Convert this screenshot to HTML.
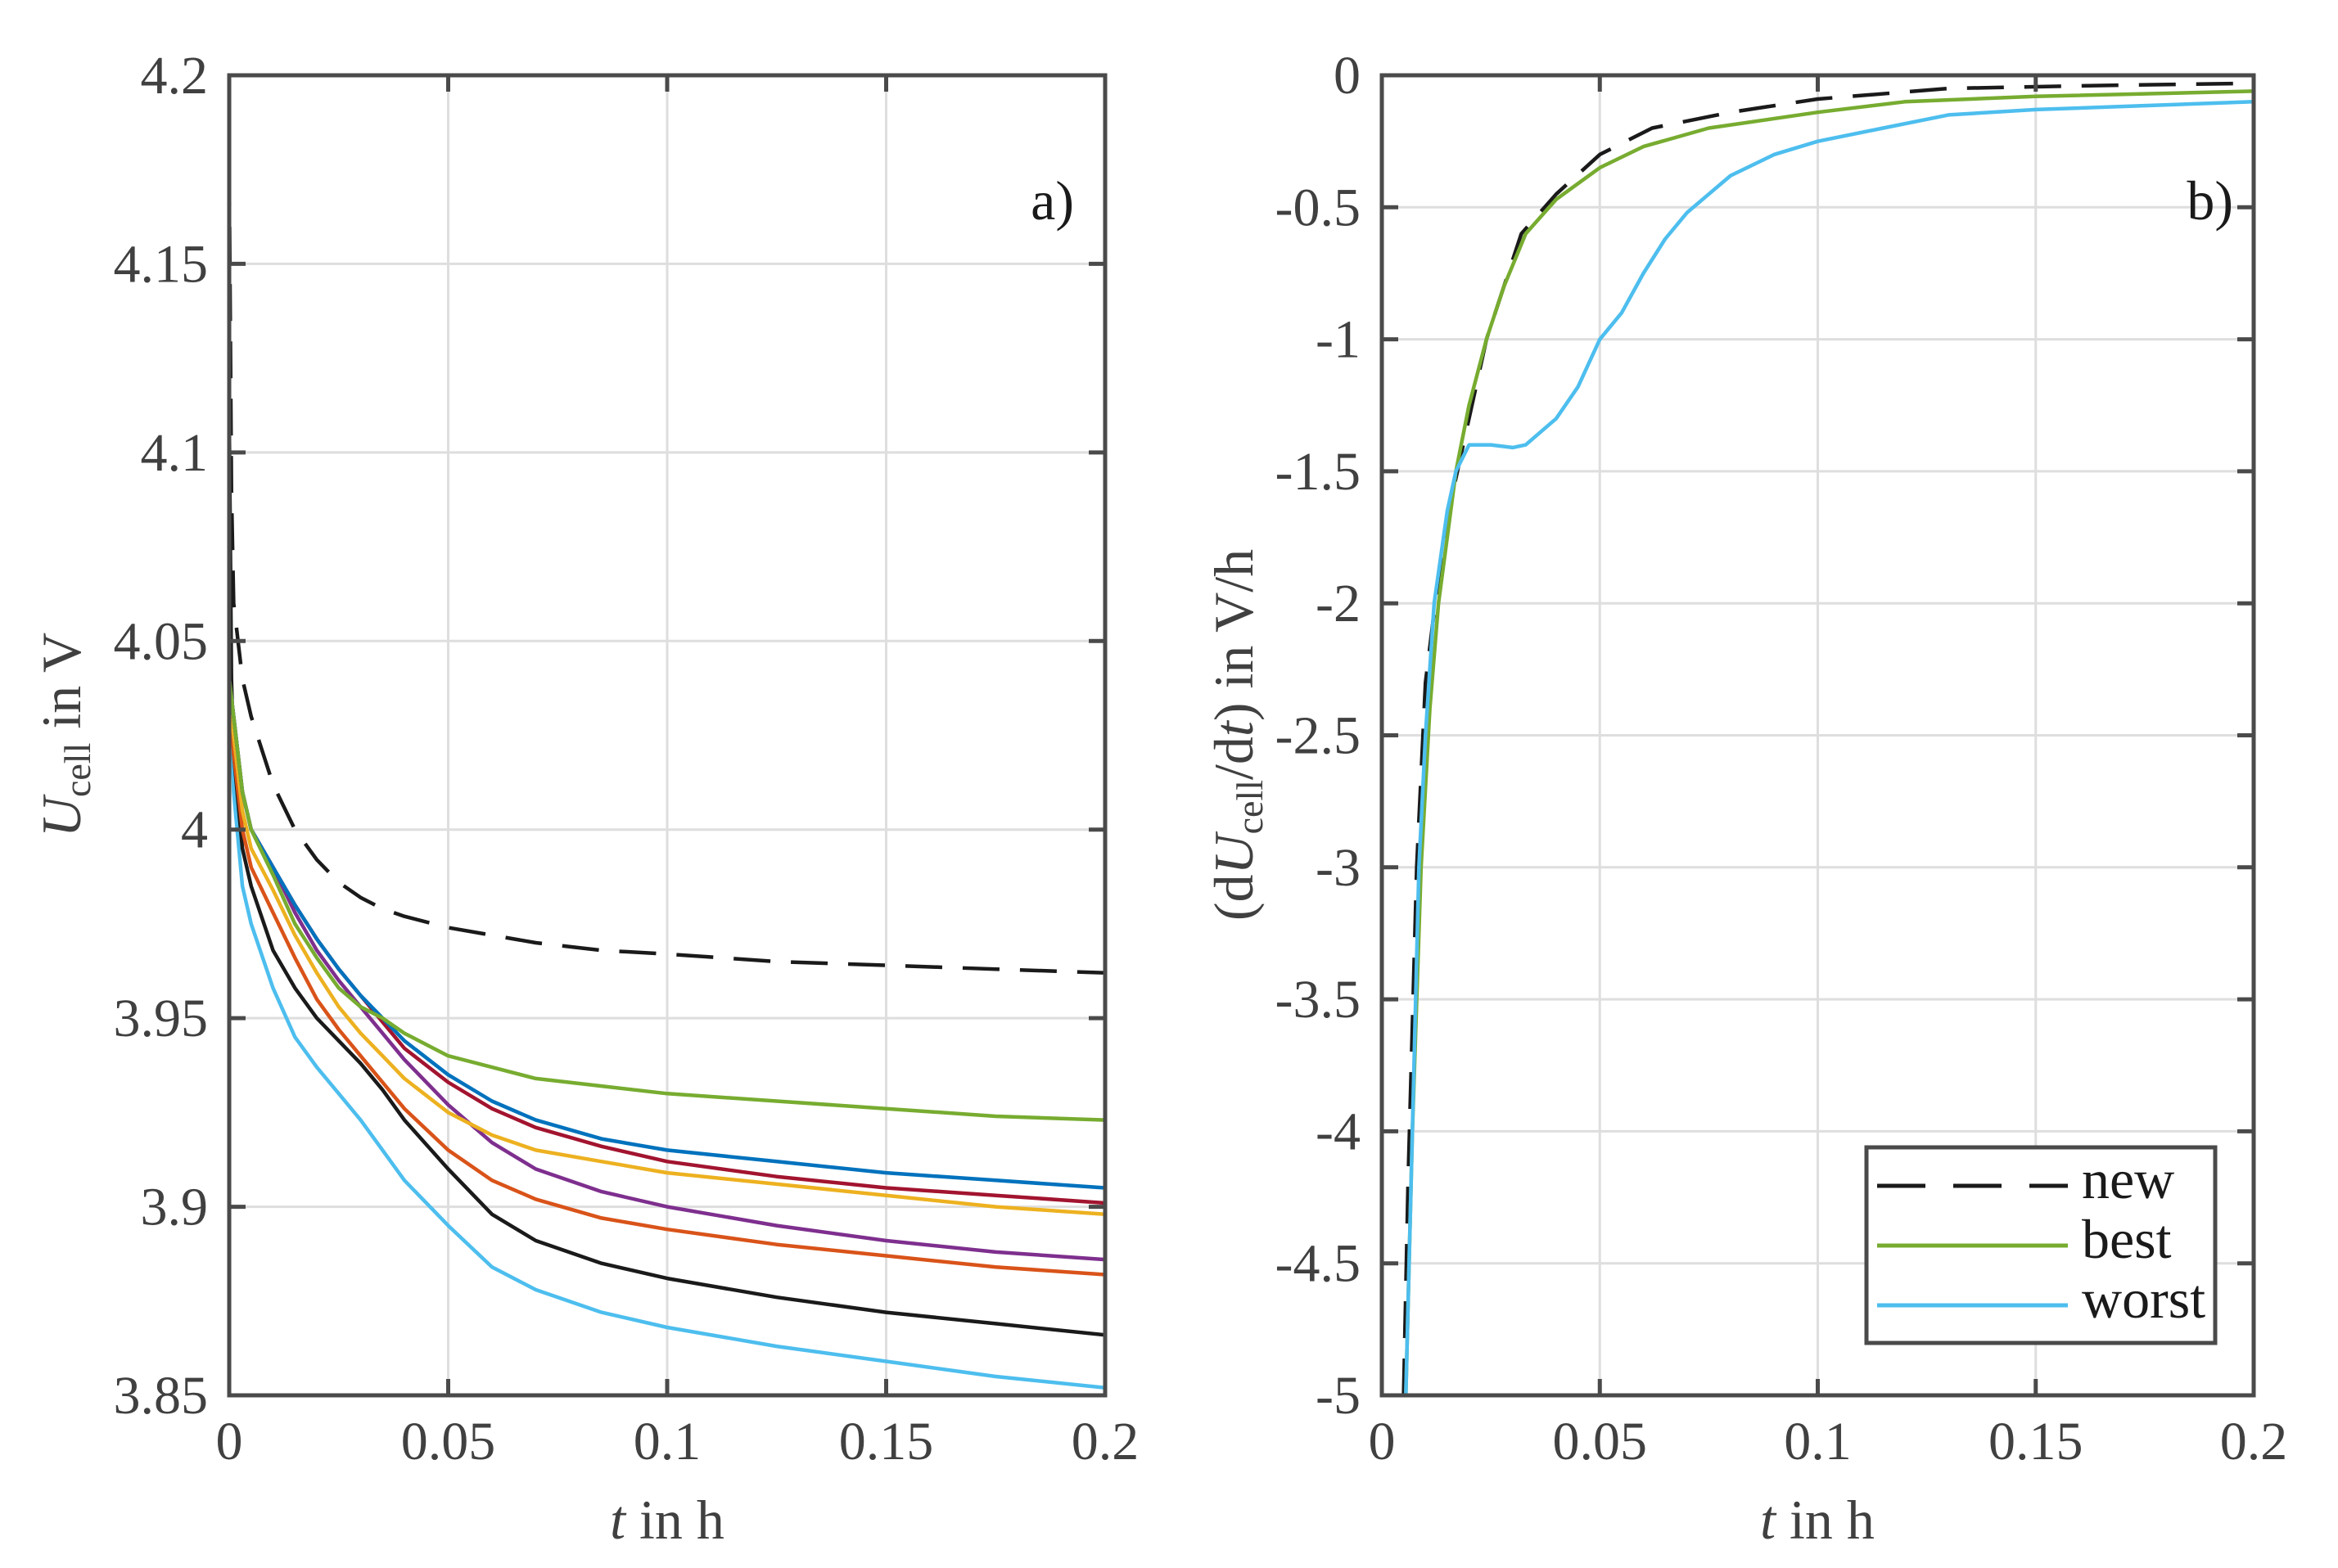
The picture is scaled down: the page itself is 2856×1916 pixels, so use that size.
<!DOCTYPE html>
<html><head><meta charset="utf-8"><style>
html,body{margin:0;padding:0;background:#fff;}
svg{display:block;}
text{font-family:"Liberation Serif",serif;fill:#404040;}
</style></head><body>
<svg id="fig" width="2856" height="1916" viewBox="0 0 2856 1916" xmlns="http://www.w3.org/2000/svg"></svg>
<script>
// ---- Panel a data ----
const tA = [0, 0.0005, 0.001, 0.003, 0.005, 0.01, 0.015, 0.02, 0.025, 0.03, 0.035, 0.04, 0.05, 0.06, 0.07, 0.085, 0.1, 0.125, 0.15, 0.175, 0.2];
const vNew    = [4.175, 4.09, 4.06, 4.04, 4.03, 4.012, 4.0, 3.992, 3.986, 3.982, 3.979, 3.977, 3.974, 3.972, 3.970, 3.968, 3.967, 3.965, 3.964, 3.963, 3.962];
const vGreen  = [4.04, 4.035, 4.03, 4.01, 4.0, 3.988, 3.975, 3.966, 3.958, 3.953, 3.950, 3.946, 3.940, 3.937, 3.934, 3.932, 3.930, 3.928, 3.926, 3.924, 3.923];
const vBlue   = [4.04, 4.035, 4.03, 4.01, 4.0, 3.99, 3.98, 3.971, 3.963, 3.956, 3.950, 3.944, 3.935, 3.928, 3.923, 3.918, 3.915, 3.912, 3.909, 3.907, 3.905];
const vRed    = [4.04, 4.035, 4.03, 4.01, 4.0, 3.99, 3.98, 3.971, 3.963, 3.956, 3.949, 3.942, 3.933, 3.926, 3.921, 3.916, 3.912, 3.908, 3.905, 3.903, 3.901];
const vYellow = [4.04, 4.03, 4.025, 4.005, 3.995, 3.984, 3.972, 3.962, 3.953, 3.946, 3.940, 3.934, 3.925, 3.919, 3.915, 3.912, 3.909, 3.906, 3.903, 3.900, 3.898];
const vPurple = [4.04, 4.035, 4.03, 4.01, 4.0, 3.99, 3.978, 3.968, 3.960, 3.953, 3.946, 3.939, 3.927, 3.917, 3.910, 3.904, 3.900, 3.895, 3.891, 3.888, 3.886];
const vOrange = [4.04, 4.03, 4.02, 4.0, 3.99, 3.978, 3.966, 3.955, 3.947, 3.940, 3.933, 3.926, 3.915, 3.907, 3.902, 3.897, 3.894, 3.890, 3.887, 3.884, 3.882];
const vBlack  = [4.11, 4.04, 4.02, 3.995, 3.985, 3.968, 3.958, 3.950, 3.944, 3.938, 3.931, 3.923, 3.910, 3.898, 3.891, 3.885, 3.881, 3.876, 3.872, 3.869, 3.866];
const vLight  = [4.11, 4.03, 4.01, 3.985, 3.975, 3.958, 3.945, 3.937, 3.930, 3.923, 3.915, 3.907, 3.895, 3.884, 3.878, 3.872, 3.868, 3.863, 3.859, 3.855, 3.852];
const xTicksA = [0, 0.05, 0.1, 0.15, 0.2];
const xTickLabels = ["0", "0.05", "0.1", "0.15", "0.2"];
const yTicksA = [3.85, 3.9, 3.95, 4, 4.05, 4.1, 4.15, 4.2];
const yTickLabelsA = ["3.85", "3.9", "3.95", "4", "4.05", "4.1", "4.15", "4.2"];
// ---- Panel b data ----
const tNew  = [0.005, 0.006, 0.008, 0.01, 0.013, 0.016, 0.02, 0.024, 0.028, 0.032, 0.04, 0.05, 0.062, 0.08, 0.1, 0.13, 0.16, 0.2];
const dNew  = [-5, -4.2, -3, -2.3, -1.9, -1.6, -1.3, -1.0, -0.8, -0.6, -0.45, -0.3, -0.2, -0.14, -0.09, -0.05, -0.04, -0.03];
const tBest = [0.0055, 0.007, 0.009, 0.011, 0.013, 0.015, 0.017, 0.02, 0.024, 0.028, 0.033, 0.04, 0.05, 0.06, 0.075, 0.1, 0.12, 0.15, 0.2];
const dBest = [-5, -4.0, -3, -2.4, -2.0, -1.75, -1.5, -1.25, -1.0, -0.8, -0.6, -0.47, -0.35, -0.27, -0.2, -0.14, -0.1, -0.08, -0.06];
const tWorst = [0.0055, 0.007, 0.0085, 0.01, 0.012, 0.015, 0.017, 0.02, 0.025, 0.03, 0.033, 0.04, 0.045, 0.05, 0.055, 0.06, 0.065, 0.07, 0.075, 0.08, 0.09, 0.1, 0.115, 0.13, 0.15, 0.2];
const dWorst = [-5, -4.0, -3, -2.5, -2.0, -1.65, -1.5, -1.4, -1.4, -1.41, -1.4, -1.3, -1.18, -1.0, -0.9, -0.75, -0.62, -0.52, -0.45, -0.38, -0.3, -0.25, -0.2, -0.15, -0.13, -0.1];
const yTicksB = [-5, -4.5, -4, -3.5, -3, -2.5, -2, -1.5, -1, -0.5, 0];
const yTickLabelsB = ["-5", "-4.5", "-4", "-3.5", "-3", "-2.5", "-2", "-1.5", "-1", "-0.5", "0"];
const legendLabels = ["new", "best", "worst"];

const NS = "http://www.w3.org/2000/svg";
const svg = document.getElementById("fig");
function mk(tag, attrs, parent) {
  const e = document.createElementNS(NS, tag);
  for (const k in attrs) e.setAttribute(k, attrs[k]);
  (parent || svg).appendChild(e);
  return e;
}
const TOP = 92, BOT = 1705;
function axis(x0, x1, ymin, ymax) {
  return {
    X: t => x0 + (t - 0) / 0.2 * (x1 - x0),
    Y: v => BOT - (v - ymin) / (ymax - ymin) * (BOT - TOP)
  };
}
function panel(name, x0, x1, ymin, ymax, yTicks, yLabels) {
  const ax = axis(x0, x1, ymin, ymax);
  const g = mk("g", {});
  
  
  xTicksA.forEach((t, i) => {
    const l = mk("line", {x1: ax.X(t), x2: ax.X(t), y1: TOP, y2: BOT, stroke: "#dedede", "stroke-width": 3}, g);
    
    
  });
  yTicks.forEach(v => {
    const l = mk("line", {x1: x0, x2: x1, y1: ax.Y(v), y2: ax.Y(v), stroke: "#dedede", "stroke-width": 3}, g);
    
    
  });
  return {ax, g};
}
function frame(g, x0, x1, ax, yTicks, yLabels, name) {
  const r = mk("rect", {x: x0, y: TOP, width: x1 - x0, height: BOT - TOP, fill: "none", stroke: "#4a4a4a", "stroke-width": 5}, g);
  
  
  xTicksA.forEach((t, i) => {
    const x = ax.X(t);
    mk("line", {x1: x, x2: x, y1: BOT, y2: BOT - 20, stroke: "#4a4a4a", "stroke-width": 5}, g);
    mk("line", {x1: x, x2: x, y1: TOP, y2: TOP + 20, stroke: "#4a4a4a", "stroke-width": 5}, g);
    const tx = mk("text", {x: x, y: 1783, "font-size": 66, "text-anchor": "middle"}, g);
    tx.textContent = xTickLabels[i];
    
    
  });
  yTicks.forEach((v, i) => {
    const y = ax.Y(v);
    mk("line", {x1: x0, x2: x0 + 20, y1: y, y2: y, stroke: "#4a4a4a", "stroke-width": 5}, g);
    mk("line", {x1: x1, x2: x1 - 20, y1: y, y2: y, stroke: "#4a4a4a", "stroke-width": 5}, g);
    const tx = mk("text", {x: x0 - 26, y: y + 22, "font-size": 66, "text-anchor": "end"}, g);
    tx.textContent = yLabels[i];
    
    
  });
}
function series(g, ax, ts, vs, color, name, dash) {
  const pts = ts.map((t, i) => ax.X(t).toFixed(1) + "," + ax.Y(vs[i]).toFixed(1)).join(" ");
  const p = mk("polyline", {points: pts, fill: "none", stroke: color, "stroke-width": 4.5, "stroke-linejoin": "round"}, g);
  if (dash) p.setAttribute("stroke-dasharray", dash);
  
  
}

const A = panel("panel-a", 280, 1350, 3.85, 4.2, yTicksA, yTickLabelsA);
const cp = mk("clipPath", {id: "clipA"}); mk("rect", {x: 280, y: TOP, width: 1070, height: BOT - TOP}, cp);
const ga = mk("g", {"clip-path": "url(#clipA)"}, A.g);
series(ga, A.ax, tA, vLight, "#4DBEEE", "line-light-blue");
series(ga, A.ax, tA, vBlack, "#1a1a1a", "line-black");
series(ga, A.ax, tA, vOrange, "#D95319", "line-orange");
series(ga, A.ax, tA, vPurple, "#7E2F8E", "line-purple");
series(ga, A.ax, tA, vYellow, "#EDB120", "line-yellow");
series(ga, A.ax, tA, vRed, "#A2142F", "line-dark-red");
series(ga, A.ax, tA, vBlue, "#0072BD", "line-blue");
series(ga, A.ax, tA, vGreen, "#77AC30", "line-green");
series(ga, A.ax, tA, vNew, "#1a1a1a", "line-new-dashed", "45,25");
frame(A.g, 280, 1350, A.ax, yTicksA, yTickLabelsA, "panel-a");

const B = panel("panel-b", 1688, 2753, -5, 0, yTicksB, yTickLabelsB);
const cpb = mk("clipPath", {id: "clipB"}); mk("rect", {x: 1688, y: TOP, width: 1065, height: BOT - TOP}, cpb);
const gb = mk("g", {"clip-path": "url(#clipB)"}, B.g);
series(gb, B.ax, tNew, dNew, "#1a1a1a", "line-new-dashed", "45,25");
series(gb, B.ax, tBest, dBest, "#77AC30", "line-best");
series(gb, B.ax, tWorst, dWorst, "#4DBEEE", "line-worst");
frame(B.g, 1688, 2753, B.ax, yTicksB, yTickLabelsB, "panel-b");
</script>
<svg style="position:absolute;left:0;top:0" width="2856" height="1916">
  <text x="1312" y="268" font-size="68" text-anchor="end" style="fill:#1a1a1a">a)</text>
  <text x="2728" y="268" font-size="68" text-anchor="end" style="fill:#1a1a1a">b)</text>
  <text x="815" y="1880" font-size="68" text-anchor="middle"><tspan font-style="italic">t</tspan> in h</text>
  <text x="2220" y="1880" font-size="68" text-anchor="middle"><tspan font-style="italic">t</tspan> in h</text>
  <text transform="translate(98,898) rotate(-90)" font-size="68" text-anchor="middle"><tspan font-style="italic">U</tspan><tspan font-size="46" dy="12">cell</tspan><tspan dy="-12"> in V</tspan></text>
  <text transform="translate(1530,898) rotate(-90)" font-size="68" text-anchor="middle">(d<tspan font-style="italic">U</tspan><tspan font-size="46" dy="12">cell</tspan><tspan dy="-12">/d</tspan><tspan font-style="italic">t</tspan>) in V/h</text>
  <g>
    <rect x="2280" y="1402" width="426" height="239" fill="#fff" stroke="#4a4a4a" stroke-width="5"/>
    <line x1="2293" y1="1449" x2="2526" y2="1449" stroke="#1a1a1a" stroke-width="5" stroke-dasharray="59,34"/>
    <line x1="2293" y1="1522" x2="2526" y2="1522" stroke="#77AC30" stroke-width="5"/>
    <line x1="2293" y1="1595" x2="2526" y2="1595" stroke="#4DBEEE" stroke-width="5"/>
    <text x="2543" y="1464" font-size="68" style="fill:#1a1a1a">new</text>
    <text x="2543" y="1537" font-size="68" style="fill:#1a1a1a">best</text>
    <text x="2543" y="1610" font-size="68" style="fill:#1a1a1a">worst</text>
  </g>
</svg>
</body></html>
